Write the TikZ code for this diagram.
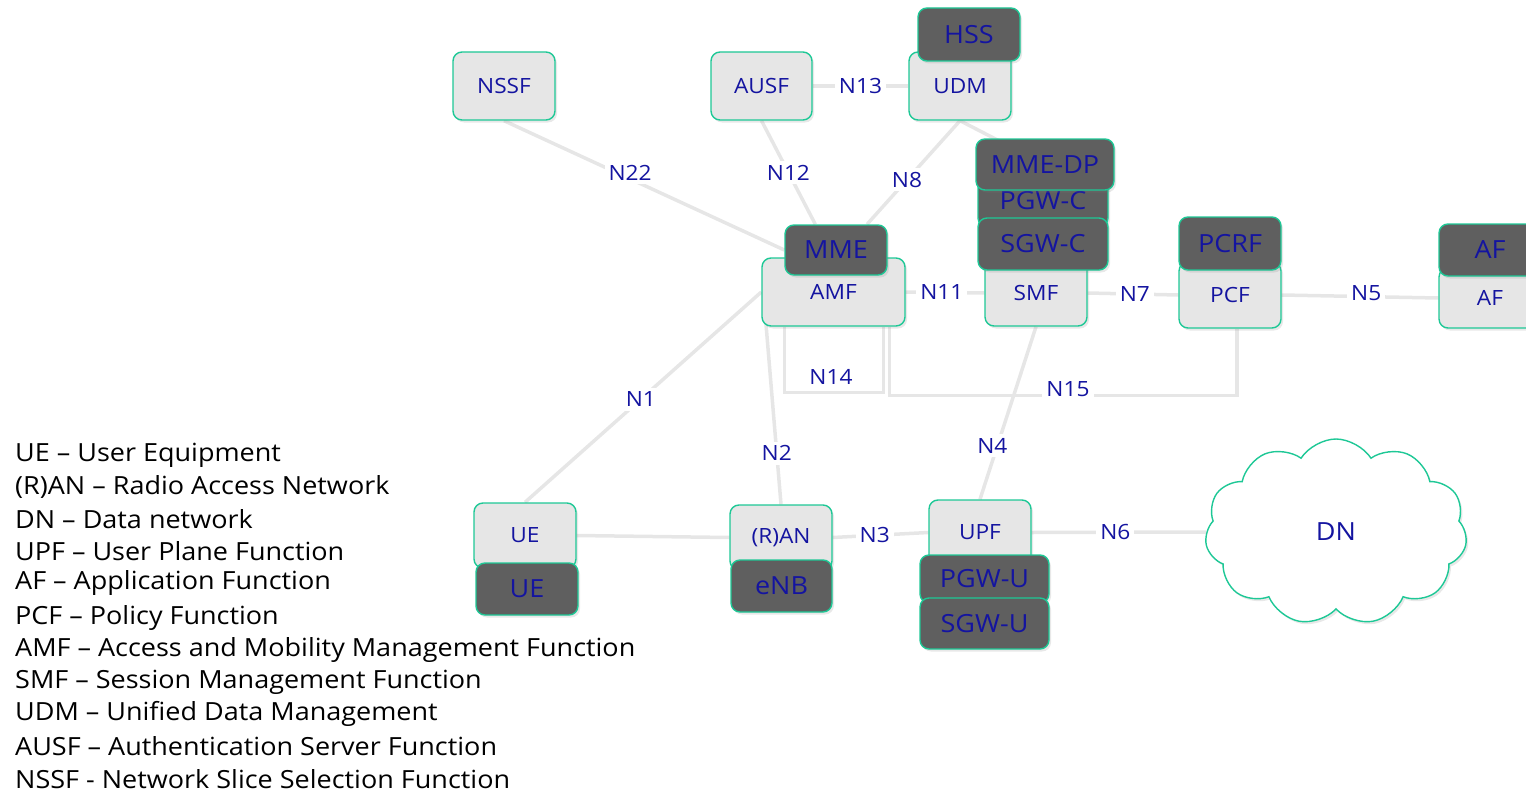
\documentclass[tikz,border=0pt]{standalone}
\usepackage{fontspec}
\setmainfont[FakeStretch=1.08]{Open Sans}
\usetikzlibrary{shapes.symbols,shadows,calc}
\definecolor{grn}{RGB}{30,200,150}
\definecolor{lfill}{RGB}{230,230,230}
\definecolor{dfill}{RGB}{95,95,95}
\definecolor{txt}{RGB}{20,20,160}
\definecolor{conn}{RGB}{230,230,230}
\pgfdeclarelayer{background}
\pgfsetlayers{background,main}
\begin{document}
\begin{tikzpicture}[x=1pt,y=-1pt,
  shad/.style={drop shadow={opacity=0.18,shadow xshift=2pt,shadow yshift=-2.5pt}},
  lbox/.style={shad,draw=grn, line width=1.4pt, fill=lfill, rounded corners=9pt, inner sep=0pt,
    text=txt, font=\fontsize{21}{23}\selectfont},
  dbox/.style={shad,draw=grn, line width=1.4pt, fill=dfill, rounded corners=9pt, inner sep=0pt,
    text=txt, font=\fontsize{25}{27}\selectfont},
  conline/.style={draw=conn, line width=3.5pt},
  lab/.style={fill=white, text=txt, font=\fontsize{21}{23}\selectfont, inner sep=4pt},
  legend/.style={anchor=west, text=black, font=\fontsize{25}{27}\selectfont, inner sep=0pt}
]
\useasboundingbox (0,0) rectangle (1526,792);

% ---------- nodes ----------
\path
  node[lbox, minimum width=102pt, minimum height=68pt] (nssf) at (504,86) {NSSF}
  node[lbox, minimum width=101pt, minimum height=68pt] (ausf) at (761.5,86) {AUSF}
  node[lbox, minimum width=102pt, minimum height=68pt] (udm) at (960,86) {UDM}
  node[dbox, minimum width=102pt, minimum height=53pt] (hss) at (969,34.5) {HSS}
  node[lbox, minimum width=143pt, minimum height=68pt] (amf) at (833.5,292) {AMF}
  node[dbox, minimum width=102pt, minimum height=50pt] (mme) at (836,250) {MME}
  node[lbox, minimum width=102pt, minimum height=66pt] (smf) at (1036,293) {SMF}
  node[dbox, minimum width=130pt, minimum height=52pt] (pgwc) at (1043,201) {PGW-C}
  node[dbox, minimum width=130pt, minimum height=52pt] (sgwc) at (1043,244) {SGW-C}
  node[dbox, minimum width=138pt, minimum height=51pt] (mmedp) at (1045,164.5) {MME-DP}
  node[lbox, minimum width=102pt, minimum height=66pt] (pcf) at (1230,295) {PCF}
  node[dbox, minimum width=102pt, minimum height=53pt] (pcrf) at (1230,243.5) {PCRF}
  node[lbox, minimum width=102pt, minimum height=60pt] (afl) at (1490,298) {AF}
  node[dbox, minimum width=102pt, minimum height=52pt] (afd) at (1490,250) {AF}
  node[lbox, minimum width=102pt, minimum height=65pt] (uel) at (525,535.5) {UE}
  node[dbox, minimum width=102pt, minimum height=52pt] (ued) at (527,589) {UE}
  node[lbox, minimum width=102pt, minimum height=65pt] (ran) at (781,537.5) {(R)AN}
  node[dbox, minimum width=101pt, minimum height=52pt] (enb) at (781.5,586) {eNB}
  node[lbox, minimum width=102pt, minimum height=65pt] (upf) at (980,532.5) {UPF}
  node[dbox, minimum width=129pt, minimum height=48pt] (pgwu) at (984.5,579) {PGW-U}
  node[dbox, minimum width=129pt, minimum height=51pt] (sgwu) at (984.5,623.5) {SGW-U}
  node[shad, cloud, cloud puffs=11, cloud puff arc=115, aspect=1.42, draw=grn, line width=1.4pt, fill=white,
       minimum width=262pt, minimum height=186pt, text=txt, font=\fontsize{25}{27}\selectfont] (dn) at (1336,532) {DN};

% ---------- connectors (behind the boxes) ----------
\begin{pgfonlayer}{background}
  \draw[conline] (nssf.south) -- node[lab, pos=0.45, yshift=6pt] {N22} (mme.west);
  \draw[conline] (ausf.south) -- node[lab, pos=0.5] {N12} ($(mme.north west)!0.3!(mme.north east)$);
  \draw[conline] (udm.south) -- node[lab, pos=0.57] {N8} ($(mme.north west)!0.8!(mme.north east)$);
  \draw[conline] (udm.south) -- (mmedp.center);
  \draw[conline] (ausf.east) -- node[lab, pos=0.5] {N13} (udm.west);
  \draw[conline] (amf.east) -- node[lab, pos=0.46] {N11} (smf.west);
  \draw[conline] (smf.east) -- node[lab, pos=0.52] {N7} (pcf.west);
  \draw[conline] (pcf.east) -- node[lab, pos=0.54, yshift=4pt] {N5} (afl.west);
  \draw[conline] ([xshift=23pt]amf.south west) -- ++(0,66) -| ([xshift=-22pt]amf.south east);
  \node[lab] (n14) at (831,377) {N14};
  \draw[conline] ([xshift=-16pt]amf.south east) -- ++(0,69) -| ([xshift=7pt]pcf.south);
  \node[lab] (n15) at (1068,389) {N15};
  \draw[conline] (amf.west) -- node[lab, pos=0.51] {N1} (uel.north);
  \draw[conline] ([xshift=2pt]amf.west) -- node[lab, pos=0.76] {N2} (ran.north);
  \draw[conline] (smf.south) -- node[lab, pos=0.69, xshift=-5pt] {N4} (upf.north);
  \draw[conline] (uel.east) -- (ran.west);
  \draw[conline] (ran.east) -- node[lab, pos=0.44] {N3} (upf.west);
  \draw[conline] (upf.east) -- node[lab, pos=0.48] {N6} (dn.west);
\end{pgfonlayer}

% ---------- legend ----------
\node[legend] (l1) at (15,455) {UE – User Equipment};
\node[legend] (l2) at (15,487) {(R)AN – Radio Access Network};
\node[legend] (l3) at (15,519) {DN – Data network};
\node[legend] (l4) at (15,551) {UPF – User Plane Function};
\node[legend] (l5) at (15,583) {AF – Application Function};
\node[legend] (l6) at (15,618) {PCF – Policy Function};
\node[legend] (l7) at (15,650) {AMF – Access and Mobility Management Function};
\node[legend] (l8) at (15,682) {SMF – Session Management Function};
\node[legend] (l9) at (15,714) {UDM – Unified Data Management};
\node[legend] (l10) at (15,746) {AUSF – Authentication Server Function};
\node[legend] (l11) at (15,779) {NSSF - Network Slice Selection Function};
\end{tikzpicture}
\end{document}
